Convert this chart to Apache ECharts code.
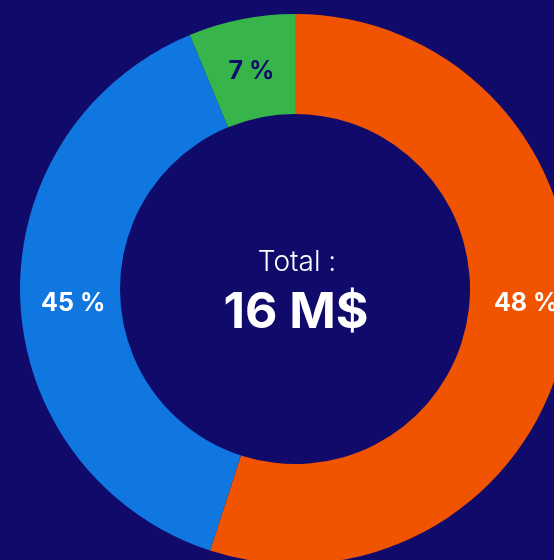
<!DOCTYPE html>
<html>
<head>
<meta charset="utf-8">
<script src="https://cdn.jsdelivr.net/npm/echarts@6/dist/echarts.min.js"></script>
<style>
  html, body { margin: 0; padding: 0; background: #100a6b; }
  #chart { width: 554px; height: 560px; }
</style>
</head>
<body>
<div id="chart"></div>
<script>
// 数据
var names = ['A', 'B', 'C'];
var values = [8.8, 6.2, 1.0];           // M$
var percentLabels = ['48 %', '45 %', '7 %'];
var colors = ['#f05400', '#1076e0', '#38b54a'];
var labelColors = ['#ffffff', '#ffffff', '#100a6b'];
var totalText = '16 M$';

var myChart = echarts.init(document.getElementById('chart'));

// 标签微调
var offsets = [[6, -21], [6, 6], [1, 6]];

var pieData = [];
for (var i = 0; i < values.length; i++) {
    pieData.push({
        name: names[i],
        value: values[i],
        itemStyle: { color: colors[i] },
        label: { color: labelColors[i], offset: offsets[i] }
    });
}

var option = {
    backgroundColor: '#100a6b',
    animation: false,
    series: [{
        type: 'pie',
        center: [295, 289],
        radius: [175, 275],
        startAngle: 90,
        clockwise: true,
        avoidLabelOverlap: false,
        itemStyle: { borderWidth: 0 },
        label: {
            show: true,
            position: 'inside',
            fontFamily: 'Inter',
            fontWeight: 'bold',
            fontSize: 25,
            formatter: function(p) { return percentLabels[p.dataIndex]; }
        },
        labelLine: { show: false },
        data: pieData
    }],
    graphic: [{
        type: 'text',
        x: 297, y: 263,
        style: {
            text: 'Total :',
            fill: '#ffffff',
            font: '300 28px Inter',
            textAlign: 'center',
            textVerticalAlign: 'middle'
        }
    }, {
        type: 'text',
        x: 296, y: 313,
        style: {
            text: totalText,
            fill: '#ffffff',
            font: 'bold 50px Inter',
            textAlign: 'center',
            textVerticalAlign: 'middle'
        }
    }]
};

myChart.setOption(option);
</script>
</body>
</html>
